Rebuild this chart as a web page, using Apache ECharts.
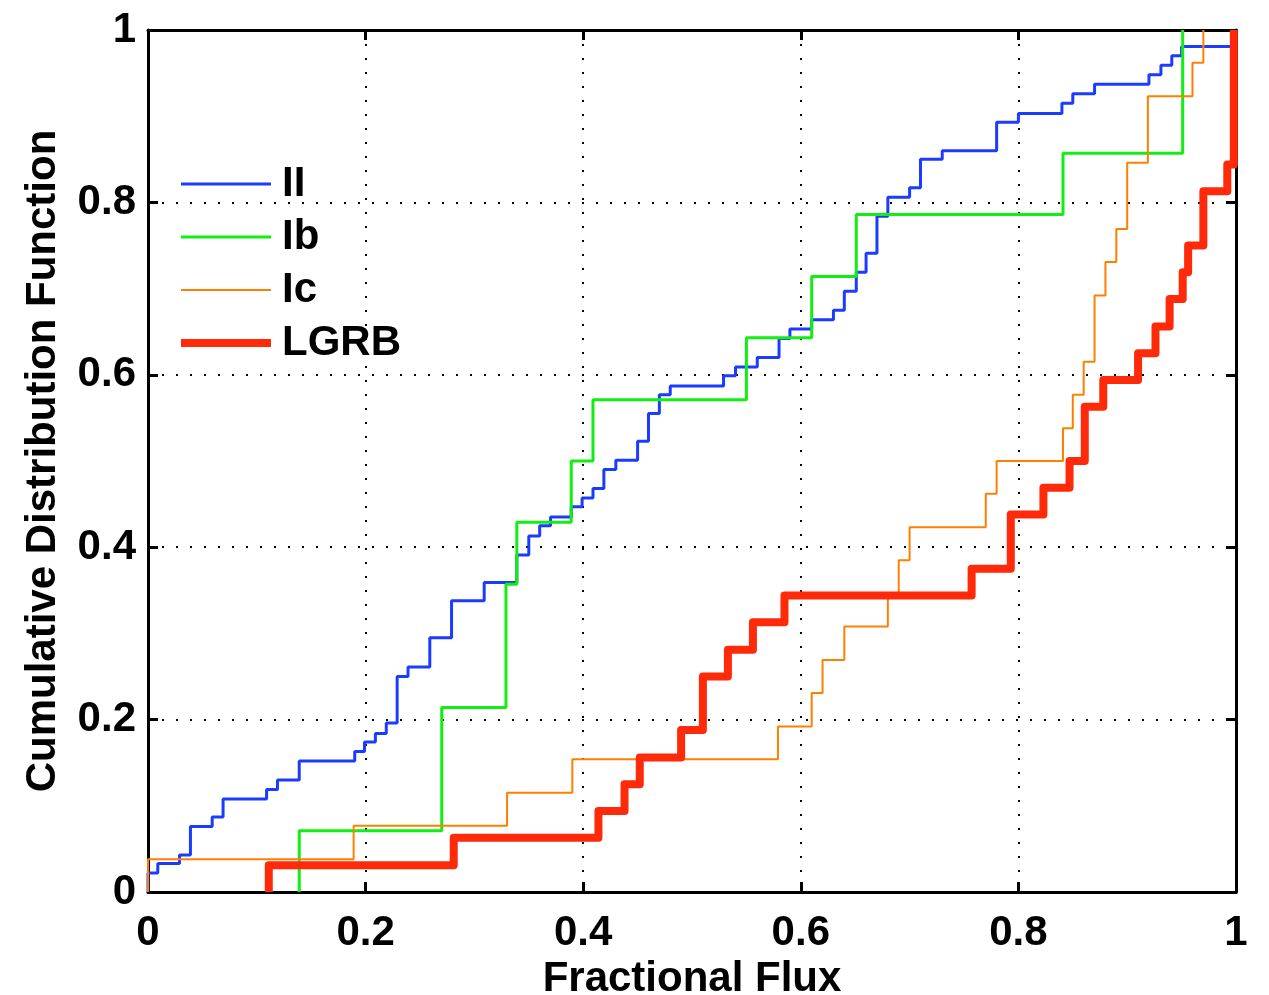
<!DOCTYPE html>
<html>
<head>
<meta charset="utf-8">
<script src="https://cdn.jsdelivr.net/npm/echarts@6/dist/echarts.min.js"></script>
<style>
  html, body { margin: 0; padding: 0; background: #fff; }
  #chart { width: 1269px; height: 995px; }
</style>
</head>
<body>
<div id="chart"></div>
<script>
// ---- data (fractional flux, CDF level after each step) ----
const xTicks = [0, 0.2, 0.4, 0.6, 0.8, 1];
const yTicks = [0, 0.2, 0.4, 0.6, 0.8, 1];
const seriesNames = ['II', 'Ib', 'Ic', 'LGRB'];

const iiX = [0, 0.009, 0.029, 0.039, 0.059, 0.069, 0.109, 0.119, 0.139, 0.190, 0.199, 0.209, 0.219, 0.229, 0.239, 0.259, 0.279, 0.309, 0.339, 0.350, 0.360, 0.370, 0.389, 0.399, 0.409, 0.419, 0.430, 0.450, 0.460, 0.470, 0.480, 0.529, 0.540, 0.560, 0.580, 0.590, 0.610, 0.630, 0.640, 0.651, 0.660, 0.670, 0.680, 0.700, 0.710, 0.730, 0.780, 0.800, 0.840, 0.850, 0.870, 0.920, 0.931, 0.941, 0.950, 0.997];
const iiY = [0.022, 0.033, 0.043, 0.076, 0.087, 0.108, 0.119, 0.130, 0.152, 0.163, 0.174, 0.184, 0.196, 0.250, 0.261, 0.295, 0.338, 0.359, 0.391, 0.413, 0.425, 0.435, 0.447, 0.457, 0.468, 0.490, 0.501, 0.523, 0.555, 0.577, 0.587, 0.599, 0.609, 0.620, 0.642, 0.653, 0.664, 0.675, 0.697, 0.719, 0.741, 0.784, 0.806, 0.817, 0.850, 0.860, 0.893, 0.903, 0.915, 0.926, 0.937, 0.948, 0.959, 0.970, 0.981, 1.000];

const ibX = [0.139, 0.270, 0.329, 0.339, 0.389, 0.409, 0.550, 0.610, 0.651, 0.841, 0.951];
const ibY = [0.071, 0.214, 0.357, 0.429, 0.500, 0.571, 0.643, 0.714, 0.786, 0.857, 1.000];

const icX = [0.000, 0.189, 0.330, 0.390, 0.579, 0.610, 0.620, 0.640, 0.680, 0.690, 0.700, 0.770, 0.780, 0.841, 0.850, 0.860, 0.870, 0.880, 0.890, 0.900, 0.919, 0.960, 0.970];
const icY = [0.038, 0.077, 0.115, 0.154, 0.192, 0.231, 0.269, 0.308, 0.346, 0.385, 0.423, 0.462, 0.500, 0.538, 0.577, 0.615, 0.692, 0.731, 0.769, 0.846, 0.923, 0.962, 1.000];

const lgrbX = [0.111, 0.281, 0.414, 0.438, 0.452, 0.490, 0.510, 0.533, 0.556, 0.585, 0.757, 0.793, 0.823, 0.847, 0.861, 0.878, 0.910, 0.926, 0.939, 0.951, 0.956, 0.970, 0.992, 0.998];
const lgrbY = [0.031, 0.063, 0.094, 0.125, 0.156, 0.188, 0.250, 0.281, 0.313, 0.344, 0.375, 0.438, 0.469, 0.500, 0.563, 0.594, 0.625, 0.656, 0.688, 0.719, 0.750, 0.813, 0.844, 1.000];

const seriesColors = ['#1b3cff', '#11ee11', '#ff8000', '#ff2a0a'];
const seriesWidths = [3, 3, 2, 8];

function stepData(xs, ys) {
  const d = [[xs[0], 0]];
  for (let i = 0; i < xs.length; i++) d.push([xs[i], ys[i]]);
  return d;
}

const FONT = '"Liberation Sans", Arial, Helvetica, sans-serif';
const chart = echarts.init(document.getElementById('chart'), null, { renderer: 'canvas' });

const dotted = { color: '#000', width: 2, type: [2, 12] };
const labelStyle = { fontFamily: FONT, fontWeight: 'bold', fontSize: 42, color: '#000' };

// one legend component per entry so each key can carry its own line thickness
const legends = seriesNames.map((name, i) => ({
  orient: 'vertical',
  left: 181,
  top: 163 + i * 53,
  padding: 0,
  icon: 'rect',
  itemWidth: 90,
  itemHeight: seriesWidths[i],
  data: [{ name: name, itemStyle: { color: seriesColors[i], borderWidth: 0 } }],
  selectedMode: false,
  textStyle: { fontFamily: FONT, fontWeight: 'bold', fontSize: 42, color: '#000', lineHeight: 42, padding: [0, 0, 0, 6] }
}));

const option = {
  animation: false,
  backgroundColor: '#fff',
  grid: { left: 148, top: 30, width: 1088, height: 862, containLabel: false, outerBoundsMode: 'none' },
  legend: legends,
  xAxis: [
    {
      type: 'value', min: 0, max: 1, interval: 0.2, position: 'bottom',
      name: 'Fractional Flux', nameLocation: 'middle', nameGap: 60,
      nameTextStyle: labelStyle,
      axisLine: { show: true, onZero: false, lineStyle: { color: '#000', width: 3 } },
      axisTick: { show: true, inside: true, length: 10, lineStyle: { color: '#000', width: 3 } },
      axisLabel: Object.assign({ margin: 20, formatter: v => String(+v.toFixed(1)) }, labelStyle),
      splitLine: { show: true, lineStyle: dotted }
    },
    {
      type: 'value', min: 0, max: 1, interval: 0.2, position: 'top',
      axisLine: { show: true, onZero: false, lineStyle: { color: '#000', width: 3 } },
      axisTick: { show: true, inside: true, length: 10, lineStyle: { color: '#000', width: 3 } },
      axisLabel: { show: false }, splitLine: { show: false }
    }
  ],
  yAxis: [
    {
      type: 'value', min: 0, max: 1, interval: 0.2, position: 'left',
      name: 'Cumulative Distribution Function', nameLocation: 'middle', nameGap: 84,
      nameTextStyle: labelStyle,
      axisLine: { show: true, onZero: false, lineStyle: { color: '#000', width: 3 } },
      axisTick: { show: true, inside: true, length: 10, lineStyle: { color: '#000', width: 3 } },
      axisLabel: Object.assign({ margin: 12, formatter: v => String(+v.toFixed(1)) }, labelStyle),
      splitLine: { show: true, lineStyle: dotted }
    },
    {
      type: 'value', min: 0, max: 1, interval: 0.2, position: 'right',
      axisLine: { show: true, onZero: false, lineStyle: { color: '#000', width: 3 } },
      axisTick: { show: true, inside: true, length: 10, lineStyle: { color: '#000', width: 3 } },
      axisLabel: { show: false }, splitLine: { show: false }
    }
  ],
  series: [
    { name: 'II', type: 'line', step: 'end', showSymbol: false, symbol: 'none', data: stepData(iiX, iiY),
      lineStyle: { color: seriesColors[0], width: seriesWidths[0] }, itemStyle: { color: seriesColors[0] }, z: 2 },
    { name: 'Ib', type: 'line', step: 'end', showSymbol: false, symbol: 'none', data: stepData(ibX, ibY),
      lineStyle: { color: seriesColors[1], width: seriesWidths[1] }, itemStyle: { color: seriesColors[1] }, z: 3 },
    { name: 'Ic', type: 'line', step: 'end', showSymbol: false, symbol: 'none', data: stepData(icX, icY),
      lineStyle: { color: seriesColors[2], width: seriesWidths[2] }, itemStyle: { color: seriesColors[2] }, z: 4 },
    { name: 'LGRB', type: 'line', step: 'end', showSymbol: false, symbol: 'none', data: stepData(lgrbX, lgrbY),
      lineStyle: { color: seriesColors[3], width: seriesWidths[3], join: 'round' }, itemStyle: { color: seriesColors[3] }, z: 5 }
  ]
};
chart.setOption(option);
</script>
</body>
</html>
